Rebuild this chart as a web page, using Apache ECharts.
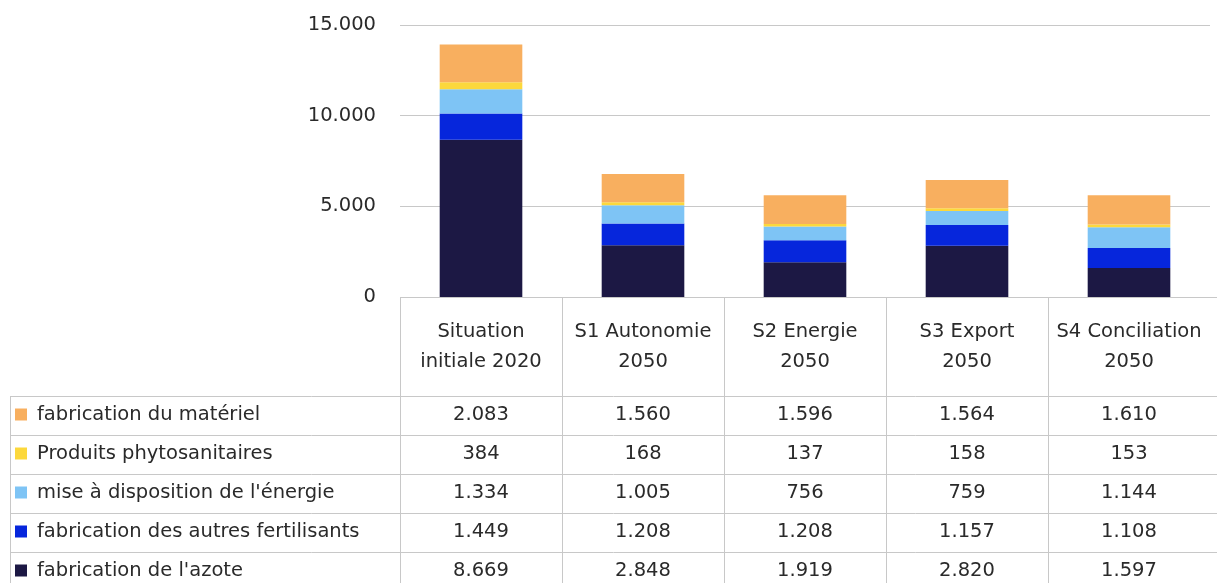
<!DOCTYPE html>
<html><head><meta charset="utf-8">
<script src="https://cdn.jsdelivr.net/npm/echarts@6/dist/echarts.min.js"></script>
<style>html,body{margin:0;padding:0;background:#fff}#c{width:1217px;height:583px}</style>
</head><body><div id="c"></div>
<script>
const categories = ['Situation\ninitiale 2020','S1 Autonomie\n2050','S2 Energie\n2050','S3 Export\n2050','S4 Conciliation\n2050'];
const seriesNames = ['fabrication du matériel','Produits phytosanitaires',"mise à disposition de l'énergie",'fabrication des autres fertilisants',"fabrication de l'azote"];
const materiel = [2083,1560,1596,1564,1610];
const phyto = [384,168,137,158,153];
const energie = [1334,1005,756,759,1144];
const fertilisants = [1449,1208,1208,1157,1108];
const azote = [8669,2848,1919,2820,1597];
const yTicks = [0,5000,10000,15000];
const colors = ['#F8AF5F','#FCD83C','#7EC4F5','#0626DC','#1C1844'];

const tableRows = [materiel, phyto, energie, fertilisants, azote];
const FONT = 'DejaVu Sans';
const FS = 19.5;
const fmt = v => String(v).replace(/\B(?=(\d{3})+(?!\d))/g, '.');

const chart = echarts.init(document.getElementById('c'));
const stackOrder = [4,3,2,1,0];
const series = stackOrder.map(i => ({
  name: seriesNames[i], type: 'bar', stack: 'total', barWidth: '51%',
  data: tableRows[i], itemStyle: {color: colors[i]}
}));
chart.setOption({
  animation: false,
  grid: {left: 400, right: 7, top: 25, bottom: 286, containLabel: false},
  xAxis: {
    type: 'category', data: categories,
    axisLine: {show: false},
    axisTick: {show: false},
    axisLabel: {interval: 0, hideOverlap: false, margin: 20, color: '#2a2a2a', fontFamily: FONT, fontSize: FS, lineHeight: 30}
  },
  yAxis: {
    type: 'value', min: yTicks[0], max: yTicks[yTicks.length-1], interval: 5000,
    axisLine: {show: false}, axisTick: {show: false},
    axisLabel: {margin: 24, color: '#2a2a2a', fontFamily: FONT, fontSize: FS, formatter: v => fmt(v)},
    splitLine: {lineStyle: {color: '#c8c8c8'}}
  },
  series: series
});

const g = [];
const lineColor = '#c8c8c8';
const top0 = 396, rowH = 39, leftX = 10, rightX = 1217;
const baseY = Math.round(chart.convertToPixel({yAxisIndex: 0}, 0));
const colEdge0 = chart.convertToPixel({xAxisIndex: 0}, 0);
const colW = chart.convertToPixel({xAxisIndex: 0}, 1) - colEdge0;
const boundaries = [];
for (let k = 0; k < categories.length; k++) boundaries.push(Math.round(colEdge0 - colW/2 + k*colW) + 0.5);
const bottomY = top0 + rowH*tableRows.length;
// header (axis) line and column separators
g.push({type: 'line', z: 10, shape: {x1: boundaries[0] - 0.5, y1: baseY + 0.5, x2: rightX, y2: baseY + 0.5}, style: {stroke: lineColor, lineWidth: 1}});
for (let r = 0; r <= tableRows.length; r++) {
  g.push({type: 'line', shape: {x1: leftX, y1: top0 + r*rowH + 0.5, x2: rightX, y2: top0 + r*rowH + 0.5}, style: {stroke: lineColor, lineWidth: 1}});
}
g.push({type: 'line', shape: {x1: leftX + 0.5, y1: top0, x2: leftX + 0.5, y2: bottomY}, style: {stroke: lineColor, lineWidth: 1}});
boundaries.forEach(b => g.push({type: 'line', shape: {x1: b, y1: baseY, x2: b, y2: bottomY}, style: {stroke: lineColor, lineWidth: 1}}));
tableRows.forEach((row, r) => {
  const cy = top0 + r*rowH + rowH/2 - 1;
  g.push({type: 'rect', shape: {x: 15, y: cy - 6, width: 12, height: 12}, style: {fill: colors[r]}});
  g.push({type: 'text', x: 37, y: cy, style: {text: seriesNames[r], fill: '#2a2a2a', font: FS + 'px "' + FONT + '"', textVerticalAlign: 'middle', textAlign: 'left'}});
  row.forEach((v, c) => {
    const cx = chart.convertToPixel({xAxisIndex: 0}, c);
    g.push({type: 'text', x: cx, y: cy, style: {text: fmt(v), fill: '#2a2a2a', font: FS + 'px "' + FONT + '"', textVerticalAlign: 'middle', textAlign: 'center'}});
  });
});
chart.setOption({graphic: g});
</script></body></html>
